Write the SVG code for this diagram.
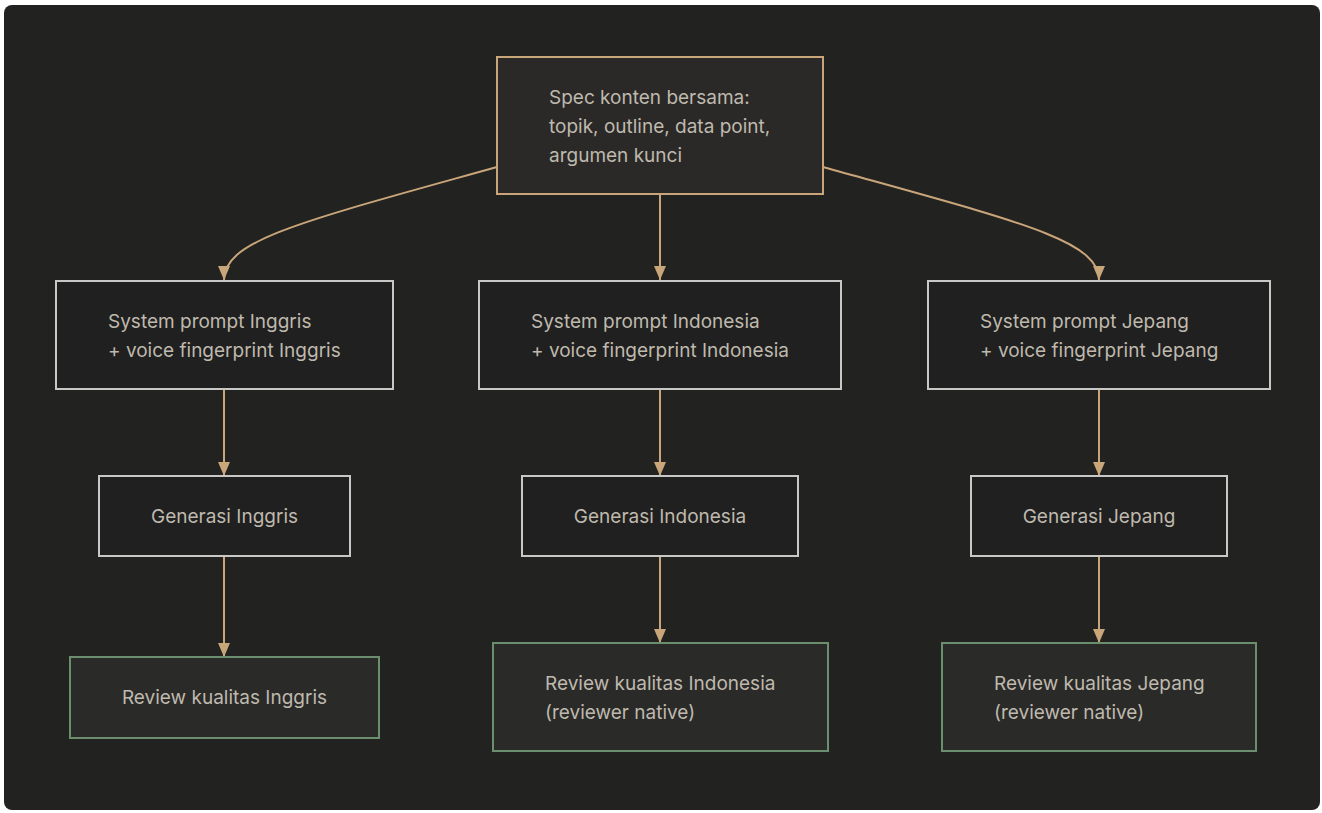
<svg xmlns="http://www.w3.org/2000/svg" width="1322" height="813" viewBox="0 0 1322 813">
  <defs>
    <marker id="arrow" viewBox="0 0 14 12" refX="14" refY="6" markerWidth="14" markerHeight="12" markerUnits="userSpaceOnUse" orient="auto">
      <path d="M0,0 L14,6 L0,12 Z" fill="#c9a57a"/>
    </marker>
    <style>
      .lbl { font-family: Inter, "Noto Sans", "Liberation Sans", sans-serif; font-size: 19px; fill: #bfb9ae; }
      .spec { fill: #2a2927; stroke: #c9a57a; stroke-width: 2; }
      .step { fill: #1f201f; stroke: #c8c8c6; stroke-width: 2; }
      .review { fill: #2a2a28; stroke: #6b8f6e; stroke-width: 2; }
      .edge { fill: none; stroke: #c9a57a; stroke-width: 2; marker-end: url(#arrow); }
    </style>
  </defs>
  <rect x="0" y="0" width="1322" height="813" fill="#ffffff"/>
  <rect x="4" y="5" width="1316" height="805" rx="8" fill="#222220"/>

  <g id="edges">
    <path class="edge" d="M497,167 C300,222 224,240 224,280"/>
    <path class="edge" d="M660,194 L660,280"/>
    <path class="edge" d="M823,167 C1020,222 1099,240 1099,280"/>
    <path class="edge" d="M224,389 L224,476"/>
    <path class="edge" d="M660,389 L660,476"/>
    <path class="edge" d="M1099,389 L1099,476"/>
    <path class="edge" d="M224,556 L224,657"/>
    <path class="edge" d="M660,556 L660,643"/>
    <path class="edge" d="M1099,556 L1099,643"/>
  </g>

  <g id="spec">
    <rect class="spec" x="497" y="57" width="326" height="137"/>
    <text class="lbl" x="549" y="104">Spec konten bersama:</text>
    <text class="lbl" x="549" y="133">topik, outline, data point,</text>
    <text class="lbl" x="549" y="162">argumen kunci</text>
  </g>

  <g id="prompt-en">
    <rect class="step" x="56" y="281" width="337" height="108"/>
    <text class="lbl" x="108" y="328">System prompt Inggris</text>
    <text class="lbl" x="108" y="357">+ voice fingerprint Inggris</text>
  </g>
  <g id="prompt-id">
    <rect class="step" x="479" y="281" width="362" height="108"/>
    <text class="lbl" x="531" y="328">System prompt Indonesia</text>
    <text class="lbl" x="531" y="357">+ voice fingerprint Indonesia</text>
  </g>
  <g id="prompt-jp">
    <rect class="step" x="928" y="281" width="342" height="108"/>
    <text class="lbl" x="980" y="328">System prompt Jepang</text>
    <text class="lbl" x="980" y="357">+ voice fingerprint Jepang</text>
  </g>

  <g id="gen-en">
    <rect class="step" x="99" y="476" width="251" height="80"/>
    <text class="lbl" x="224.5" y="523" text-anchor="middle">Generasi Inggris</text>
  </g>
  <g id="gen-id">
    <rect class="step" x="522" y="476" width="276" height="80"/>
    <text class="lbl" x="660" y="523" text-anchor="middle">Generasi Indonesia</text>
  </g>
  <g id="gen-jp">
    <rect class="step" x="971" y="476" width="256" height="80"/>
    <text class="lbl" x="1099" y="523" text-anchor="middle">Generasi Jepang</text>
  </g>

  <g id="review-en">
    <rect class="review" x="70" y="657" width="309" height="81"/>
    <text class="lbl" x="224.5" y="704" text-anchor="middle">Review kualitas Inggris</text>
  </g>
  <g id="review-id">
    <rect class="review" x="493" y="643" width="335" height="108"/>
    <text class="lbl" x="545" y="690">Review kualitas Indonesia</text>
    <text class="lbl" x="545" y="719">(reviewer native)</text>
  </g>
  <g id="review-jp">
    <rect class="review" x="942" y="643" width="314" height="108"/>
    <text class="lbl" x="994" y="690">Review kualitas Jepang</text>
    <text class="lbl" x="994" y="719">(reviewer native)</text>
  </g>
</svg>
